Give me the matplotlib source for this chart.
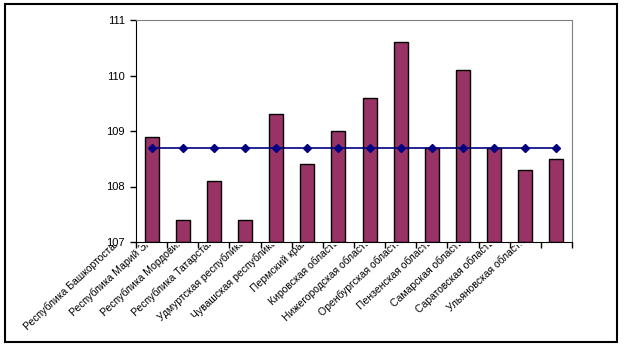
import numpy as np
import matplotlib
matplotlib.use("Agg")
import matplotlib.pyplot as plt
import matplotlib.transforms as mtransforms
from matplotlib.patches import Rectangle

plt.rcParams['font.family'] = ['Liberation Sans', 'DejaVu Sans']

# данные
regions = ["Республика Башкортостан", "Республика Марий Эл", "Республика Мордовия",
           "Республика Татарстан", "Удмуртская республика", "Чувашская республика",
           "Пермский край", "Кировская область", "Нижегородская область",
           "Оренбургская область", "Пензенская область", "Самарская область",
           "Саратовская область", "Ульяновская область"]
values = [108.9, 107.4, 108.1, 107.4, 109.3, 108.4, 109.0, 109.6, 110.6,
          108.7, 110.1, 108.7, 108.3, 108.5]
average = [108.7] * len(regions)

fig = plt.figure(figsize=(6.25, 3.51), dpi=100)
ax = fig.add_axes([136/625, 1-242/351, (572-136)/625, (242-20)/351])

x = np.arange(len(regions))
ax.bar(x, [v - 107 for v in values], bottom=107, width=0.45,
       color='#993366', edgecolor='black', linewidth=1, zorder=2)
ax.plot(x, average, color='#000080', marker='D', markersize=4.2, linewidth=1.2, zorder=3)

ax.set_xlim(-0.5, len(regions) - 0.5)
ax.set_ylim(107, 111)
ax.set_yticks([107, 108, 109, 110, 111])
ax.tick_params(axis='y', direction='out', length=4, width=1, labelsize=8, pad=4)

# деления по границам категорий, подписи по центрам
ax.set_xticks(np.arange(len(regions) + 1) - 0.5)
ax.set_xticklabels([])
ax.tick_params(axis='x', which='major', direction='out', length=4, width=1)
ax.set_xticks(x, minor=True)
ax.set_xticklabels(regions, minor=True, rotation=43, ha='right', va='top',
                   rotation_mode='anchor', fontsize=7.5)
ax.tick_params(axis='x', which='minor', length=0, pad=0)

offset = mtransforms.ScaledTranslation(-36/100, 5/100, fig.dpi_scale_trans)
clip = mtransforms.Bbox.from_extents(0, 0, 625, 351-245)
for lab in ax.get_xticklabels(minor=True):
    lab.set_transform(lab.get_transform() + offset)
    lab.set_clip_box(mtransforms.TransformedBbox(clip, mtransforms.IdentityTransform()))
    lab.set_clip_on(True)

for s in ['top', 'right']:
    ax.spines[s].set_color('#808080')
for s in ['left', 'bottom']:
    ax.spines[s].set_color('black')

fig.patches.append(Rectangle((5/625, 1-342/351), 612/625, 338/351,
                             transform=fig.transFigure, fill=False,
                             edgecolor='black', linewidth=1.5))

fig.savefig("out.png", dpi=100)
